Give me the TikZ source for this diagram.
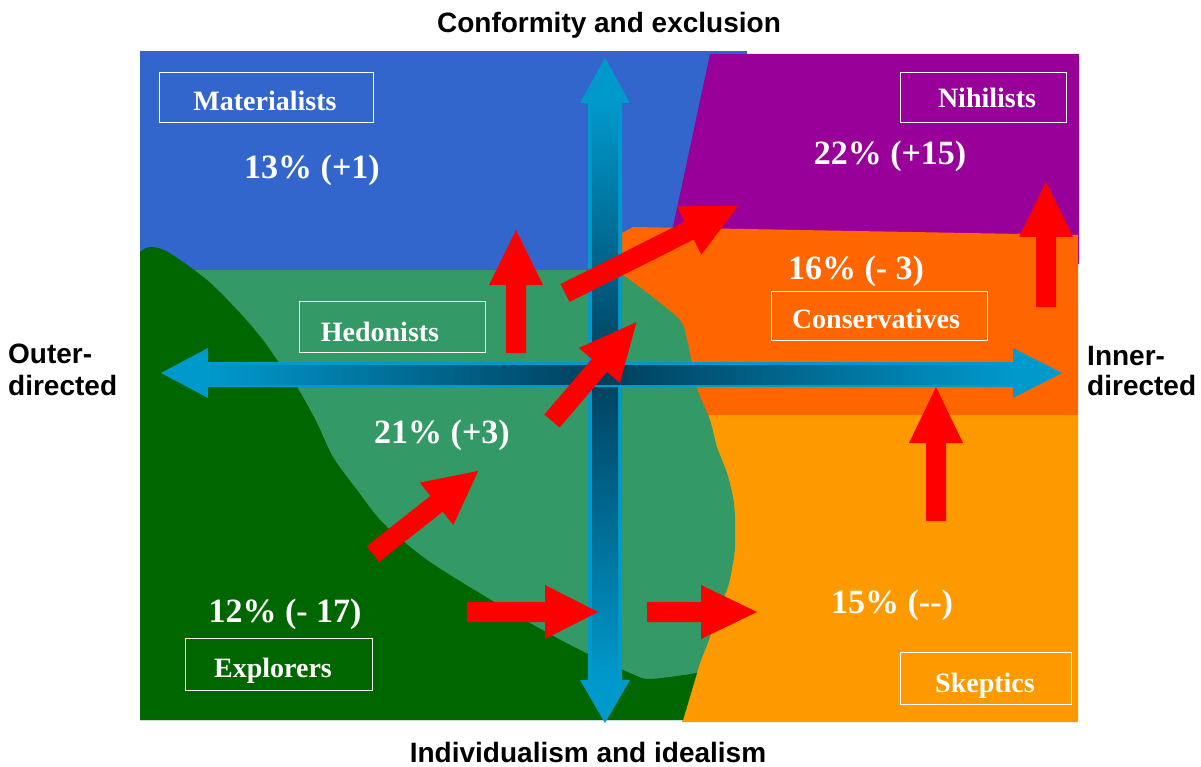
\documentclass[tikz,border=0pt]{standalone}
\usepackage{fontspec}
\setmainfont{Liberation Serif}
\newfontfamily\axisfamily{Liberation Sans}
\definecolor{blueq}{HTML}{3366CC}
\definecolor{purpq}{HTML}{990099}
\definecolor{orangeq}{HTML}{FF6600}
\definecolor{skepq}{HTML}{FF9900}
\definecolor{ltgreen}{HTML}{339966}
\definecolor{dkgreen}{HTML}{006600}
\definecolor{axcol}{HTML}{0099CC}
\definecolor{axdark}{HTML}{003F5C}
\definecolor{arrred}{HTML}{FF0000}
\newcommand\lblfont{\fontsize{28}{32}\selectfont\bfseries}
\newcommand\pctfont{\fontsize{34}{38}\selectfont\bfseries}
\newcommand\axfont{\axisfamily\fontsize{28}{32}\selectfont\bfseries}
\newcommand\blockarrow[5]{%
  \begin{scope}[shift={(#1,#2)}, rotate=#3]
    \fill[redarr] (0,-10) -- ({#4-#5},-10) -- ({#4-#5},-27) -- (#4,0) -- ({#4-#5},27) -- ({#4-#5},10) -- (0,10) -- cycle;
  \end{scope}}
\tikzset{
  redarr/.style={fill=arrred},
  lblbox/.style={draw=white, line width=1pt, inner sep=0pt},
  lbltext/.style={text=white, font=\lblfont, anchor=base, inner sep=0pt},
  pcttext/.style={text=white, font=\pctfont, anchor=base, inner sep=0pt},
  axtext/.style={text=black, font=\axfont, inner sep=0pt},
}
\begin{document}
\begin{tikzpicture}[x=1pt,y=-1pt]
\useasboundingbox (0,0) rectangle (1201,767);
% regions
\fill[blueq] (140,51) rectangle (747,300);
\fill[purpq] (710,54) -- (1079,54) -- (1079,264) -- (665,264) -- cycle;
\fill[orangeq] (622,233) -- (633,227) -- (1078,235) -- (1078,415) -- (622,415) -- cycle;
\fill[skepq] (650,415) -- (1078,415) -- (1078,722) -- (682,722) -- (697,673) -- cycle;
\fill[ltgreen] (140,720) -- (140,270) -- (622,270) -- (622,274)
  -- plot[smooth, tension=0.5] coordinates {(622,274) (677,317) (687,340) (697,388) (710,420) (717,447) (727,473) (733,497) (735,517) (735,547) (733,563) (728,587) (717,613) (710,637) (700,663) (697,673)}
  -- (683,720) -- cycle;
\fill[dkgreen] (140,720) -- (140,252)
  -- plot[smooth, tension=0.5] coordinates {(140,252) (150,247) (168,252) (207,280) (240,313) (263,340) (277,360) (297,387) (317,423) (333,457) (357,490) (383,523) (423,557) (463,583) (530,623) (580,650) (630,673) (650,679) (697,673)}
  -- (683,720) -- cycle;
% vertical axis
\fill[axcol] (605,58) -- (630,103) -- (622,103) -- (622,680) -- (630,680) -- (605,723) -- (580,680) -- (588,680) -- (588,103) -- (580,103) -- cycle;
\shade[top color=axcol, bottom color=axdark] (592,103) rectangle (618,370);
\shade[top color=axdark, bottom color=axcol] (592,370) rectangle (618,680);
% horizontal axis
\fill[axcol] (161,373) -- (208,348) -- (208,362) -- (1013,362) -- (1013,348) -- (1062,373) -- (1013,398) -- (1013,387) -- (208,387) -- (208,398) -- cycle;
\shade[left color=axcol, right color=axdark] (208,365) rectangle (605,384);
\shade[left color=axdark, right color=axcol] (605,365) rectangle (1013,384);
% red arrows
\blockarrow{516}{353}{90}{123}{55}
\blockarrow{565}{293}{26.7}{194}{55}
\blockarrow{552}{421}{49.5}{130}{57}
\blockarrow{373}{554}{38.3}{134}{53}
\blockarrow{467}{612}{0}{131}{53}
\blockarrow{647}{612}{0}{110}{56}
\blockarrow{936}{521}{90}{134}{56}
\blockarrow{1046}{307}{90}{125}{55}
% label boxes
\node[lblbox, minimum width=214, minimum height=50] (matbox) at (266,98) {};
\node[lbltext] (mat) at (265,111) {Materialists};
\node[lblbox, minimum width=166, minimum height=50] (nihbox) at (983,98) {};
\node[lbltext] (nih) at (987,108) {Nihilists};
\node[lblbox, minimum width=186, minimum height=51] (hedbox) at (392,326.5) {};
\node[lbltext] (hed) at (380,341) {Hedonists};
\node[lblbox, minimum width=216, minimum height=49] (conbox) at (879,315.5) {};
\node[lbltext] (con) at (876,328) {Conservatives};
\node[lblbox, minimum width=187, minimum height=52] (expbox) at (278.5,664) {};
\node[lbltext] (exp) at (273,677) {Explorers};
\node[lblbox, minimum width=171, minimum height=52] (skebox) at (985.5,678) {};
\node[lbltext] (ske) at (985,692) {Skeptics};
% percentages
\node[pcttext] (pmat) at (312,179) {13\% (+1)};
\node[pcttext] (pnih) at (890,165) {22\% (+15)};
\node[pcttext] (pcon) at (856,279) {16\% (- 3)};
\node[pcttext] (phed) at (442,443) {21\% (+3)};
\node[pcttext] (pexp) at (285,622) {12\% (- 17)};
\node[pcttext] (pske) at (892,613) {15\% (-{}-)};
% axis labels
\node[axtext, anchor=base] (top) at (609,33) {Conformity and exclusion};
\node[axtext, anchor=base] (bot) at (588,762) {Individualism and idealism};
\node[axtext, anchor=base west] (outa) at (8,363) {Outer-};
\node[axtext, anchor=base west] (outb) at (8,395) {directed};
\node[axtext, anchor=base west] (inna) at (1087,365) {Inner-};
\node[axtext, anchor=base west] (innb) at (1087,395) {directed};
\end{tikzpicture}
\end{document}
